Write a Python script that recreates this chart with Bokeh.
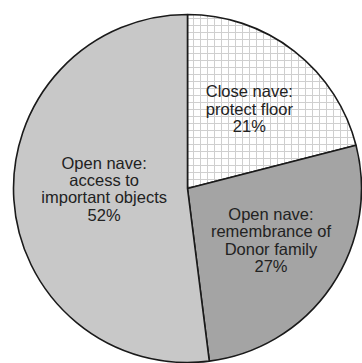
import numpy as np
from bokeh.plotting import figure
from bokeh.models import ColumnDataSource
from bokeh.core.properties import value
from bokeh.embed import file_html
from bokeh.resources import INLINE

# Survey shares, clockwise from 12 o'clock
labels = [
    "Close nave:\nprotect floor",
    "Open nave:\nremembrance of\nDonor family",
    "Open nave:\naccess to\nimportant objects",
]
shares = [21, 27, 52]

# Styling per slice
fills = ["#ffffff", "#a4a4a4", "#c8c8c8"]
hatches = ["+", " ", " "]
label_r = [0.58, 0.58, 0.48]
label_dy = [0, 5, 5]

W, H = 362, 363
cx, cy, R = 187, 175, 174

frac = np.array(shares, dtype=float) / sum(shares)
cum_end = np.cumsum(frac)
cum_start = cum_end - frac
start = np.pi / 2 - cum_start * 2 * np.pi
end = np.pi / 2 - cum_end * 2 * np.pi
mid = (start + end) / 2

src = ColumnDataSource(dict(
    start=start, end=end, fill=fills, hatch=hatches,
    text=[f"{l}\n{s}%" for l, s in zip(labels, shares)],
    tx=cx + R * np.array(label_r) * np.cos(mid),
    ty=cy + R * np.array(label_r) * np.sin(mid) + np.array(label_dy),
))

p = figure(width=W, height=H, x_range=(0, W), y_range=(0, H),
           output_backend="svg", toolbar_location=None,
           min_border=0, outline_line_color=None)
p.axis.visible = False
p.grid.visible = False
p.background_fill_color = "#ffffff"
p.border_fill_color = "#ffffff"

p.wedge(x=cx, y=cy, radius=R, start_angle="start", end_angle="end",
        direction="clock", source=src, fill_color="fill",
        hatch_pattern="hatch", hatch_color="#cfcfcf", hatch_scale=7,
        hatch_weight=1, line_color="#1a1a1a", line_width=1.6)

p.text(x="tx", y="ty", text="text", source=src,
       text_font=value("Liberation Sans"), text_font_size="16.5px",
       text_color="#222222", text_align="center", text_baseline="middle",
       text_line_height=0.97)

open("out.html", "w").write(file_html(p, INLINE))
